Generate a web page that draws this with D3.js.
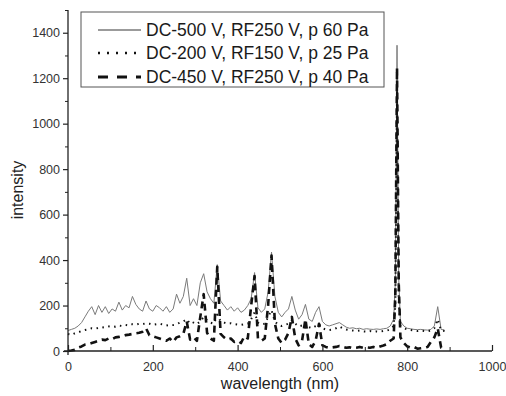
<!DOCTYPE html>
<html><head><meta charset="utf-8">
<script src="https://cdn.jsdelivr.net/npm/d3@7"></script>
<style>body{margin:0;background:#fff}svg{display:block}text{font-family:"Liberation Sans",Arial,sans-serif}</style>
</head><body><svg id="c" width="506" height="396"></svg>
<script>
const wavelength = [0,8,16,24,32,40,48,56,64,72,80,88,96,104,112,120,128,136,144,152,160,168,176,184,192,200,208,216,224,232,240,248,256,264,272,280,288,296,304,312,320,328,336,344,352,360,368,376,384,392,400,408,416,424,432,440,448,456,464,472,480,488,496,504,512,520,528,536,544,552,560,568,576,584,592,600,608,616,624,632,640,648,656,664,672,680,688,696,704,712,720,728,736,744,752,760,768,772,776,780,784,792,800,808,816,824,832,840,848,856,864,872,880,888];
const seriesA = [90,95,100,110,125,150,175,195,160,200,170,195,165,185,175,215,180,200,190,240,205,185,175,220,185,175,200,190,175,195,170,185,250,210,240,320,200,230,200,300,340,260,230,210,380,220,200,180,195,175,190,170,180,200,230,345,190,170,185,260,435,240,170,150,170,185,240,180,140,160,205,140,130,170,195,130,115,110,115,120,125,115,105,100,102,98,100,95,98,96,95,97,95,98,100,110,140,300,1345,320,130,110,100,98,95,94,95,93,92,95,110,195,95,92];
const seriesB = [75,70,78,82,88,92,95,100,98,102,105,103,108,110,107,112,110,115,112,118,116,120,118,122,120,115,118,120,116,112,115,114,118,125,130,140,120,125,118,130,150,135,125,120,160,130,125,120,122,118,116,115,118,120,140,170,125,118,120,150,180,130,115,110,115,120,135,120,108,112,125,105,100,110,118,100,95,92,94,100,108,100,95,92,90,88,90,86,85,88,84,86,85,88,90,95,110,200,1150,220,110,100,95,92,90,88,90,88,87,90,100,140,90,88];
const seriesC = [0,2,5,15,20,28,30,35,40,45,50,48,55,52,60,62,65,70,72,75,78,80,85,100,70,65,60,55,50,45,55,40,60,65,75,130,50,60,45,150,250,80,55,45,370,75,60,50,55,40,45,35,65,55,200,330,55,45,55,200,420,120,55,35,50,80,150,55,25,45,140,30,18,45,120,25,18,14,16,18,22,18,14,16,12,14,18,14,16,14,18,14,20,24,30,45,55,250,1245,300,60,35,20,15,18,10,12,14,18,40,60,100,15,5];
const seriesNames = ["DC-500 V, RF250 V, p 60 Pa","DC-200 V, RF150 V, p 25 Pa","DC-450 V, RF250 V, p 40 Pa"];
const xTicks = [0,200,400,600,800,1000];
const yTicks = [0,200,400,600,800,1000,1200,1400];

const svg = d3.select("#c");
const x = d3.scaleLinear().domain([0,1000]).range([68,492]);
const y = d3.scaleLinear().domain([0,1500]).range([351,10]);
const styles = [
  {stroke:"#7a7a7a", width:1, dash:null},
  {stroke:"#111", width:2, dash:"1.5,4.5"},
  {stroke:"#111", width:2.6, dash:"7,5"}
];
const data = [seriesA, seriesB, seriesC];

const line = d3.line().x((d,i)=>x(wavelength[i])).y(d=>y(d));
data.forEach((s,k)=>{
  svg.append("path").datum(s).attr("d",line).attr("fill","none")
    .attr("stroke",styles[k].stroke).attr("stroke-width",styles[k].width)
    .attr("stroke-dasharray",styles[k].dash).attr("stroke-linejoin","round");
});

// axes
const axColor="#222";
const fmt = d3.format("d");
const yAxis = d3.axisLeft(y).tickValues(yTicks).tickFormat(fmt).tickSize(5).tickPadding(3);
const gy = svg.append("g").attr("transform","translate(68,0)").call(yAxis);
gy.select(".domain").remove();
svg.append("line").attr("x1",68).attr("x2",68).attr("y1",10).attr("y2",355).attr("stroke",axColor).attr("stroke-width",1.3);
gy.selectAll(".tick line").attr("stroke",axColor).attr("stroke-width",1.2);
gy.selectAll(".tick text").attr("font-size",12.5).attr("fill","#333");
const gyMinor = svg.append("g").attr("transform","translate(68,0)")
  .call(d3.axisLeft(y).tickValues(d3.range(100,1600,200)).tickSize(3).tickFormat(""));
gyMinor.select(".domain").remove();
gyMinor.selectAll(".tick line").attr("stroke",axColor);

const xAxis = d3.axisBottom(x).tickValues(xTicks).tickFormat(fmt).tickSize(-6).tickPadding(11);
const gx = svg.append("g").attr("transform","translate(0,351)").call(xAxis);
gx.select(".domain").remove();
svg.append("line").attr("x1",64).attr("x2",492).attr("y1",351).attr("y2",351).attr("stroke",axColor).attr("stroke-width",1.3);
gx.selectAll(".tick line").attr("stroke",axColor).attr("stroke-width",1.2);
gx.selectAll(".tick text").attr("font-size",12.5).attr("fill","#333");
const gxMinor = svg.append("g").attr("transform","translate(0,351)")
  .call(d3.axisBottom(x).tickValues(d3.range(100,1000,200)).tickSize(-4).tickFormat(""));
gxMinor.select(".domain").remove();
gxMinor.selectAll(".tick line").attr("stroke",axColor);

svg.append("text").attr("x",280).attr("y",389).attr("text-anchor","middle").attr("font-size",16).attr("fill","#222").text("wavelength (nm)");
svg.append("text").attr("transform","translate(23,190) rotate(-90)").attr("text-anchor","middle").attr("font-size",16).attr("fill","#222").text("intensity");

// legend
const lg = svg.append("g");
lg.append("rect").attr("x",81).attr("y",12).attr("width",303).attr("height",75).attr("fill","#fff").attr("stroke","#555").attr("stroke-width",1);
const rowsY = [30,53,77];
seriesNames.forEach((n,k)=>{
  lg.append("line").attr("x1",98).attr("x2",141).attr("y1",rowsY[k]).attr("y2",rowsY[k])
    .attr("stroke",styles[k].stroke).attr("stroke-width",k===2?3:styles[k].width+0.3)
    .attr("stroke-dasharray",k===1?"2,7":(k===2?"10,9":null));
  lg.append("text").attr("x",146).attr("y",rowsY[k]+6).attr("font-size",17.5).attr("fill","#1a1a1a").text(n);
});
</script></body></html>
